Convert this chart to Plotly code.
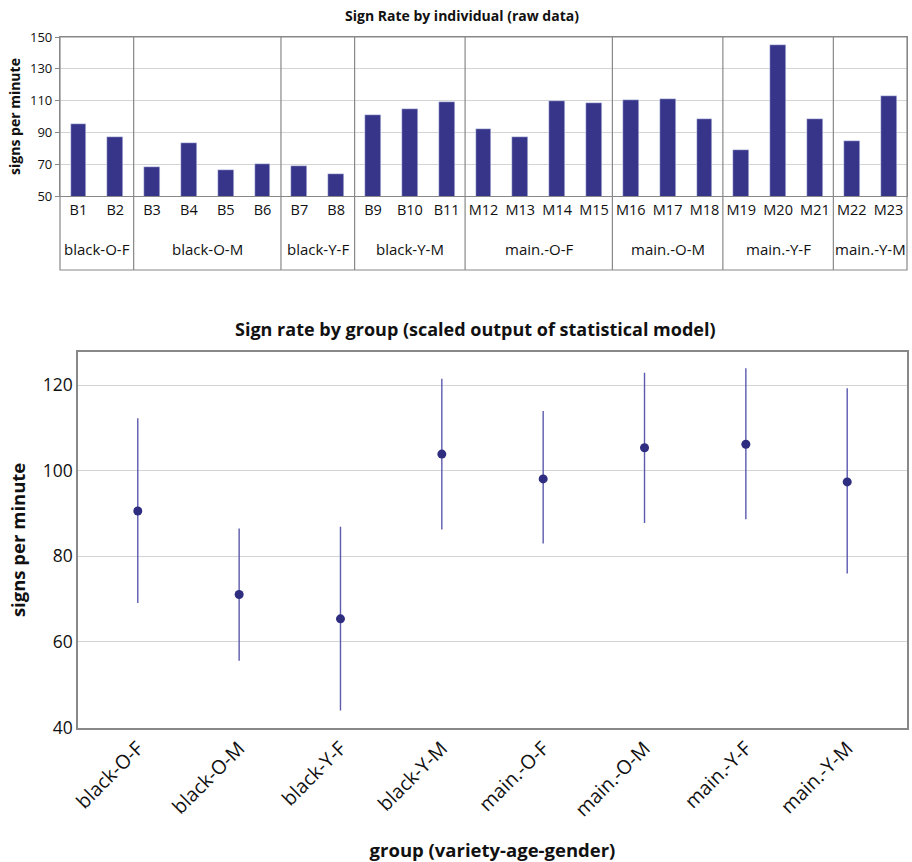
import plotly.graph_objects as go

# ---- data: top chart (raw data per individual) ----
individuals = ["B1", "B2", "B3", "B4", "B5", "B6", "B7", "B8", "B9", "B10", "B11",
               "M12", "M13", "M14", "M15", "M16", "M17", "M18", "M19", "M20", "M21", "M22", "M23"]
rates = [95.6, 87.0, 68.2, 83.3, 66.3, 70.1, 69.0, 63.8, 100.8, 104.6, 109.0,
         92.0, 87.0, 109.6, 108.4, 110.3, 110.9, 98.3, 78.9, 144.8, 98.3, 84.5, 112.8]
group_names = ["black-O-F", "black-O-M", "black-Y-F", "black-Y-M",
               "main.-O-F", "main.-O-M", "main.-Y-F", "main.-Y-M"]
group_sizes = [2, 4, 2, 3, 4, 3, 3, 2]
top_yticks = [50, 70, 90, 110, 130, 150]

# ---- data: bottom chart (model estimates) ----
groups = ["black-O-F", "black-O-M", "black-Y-F", "black-Y-M",
          "main.-O-F", "main.-O-M", "main.-Y-F", "main.-Y-M"]
est = [90.6, 71.1, 65.4, 103.9, 98.1, 105.4, 106.2, 97.4]
upper = [112.3, 86.5, 86.9, 121.5, 114.0, 122.9, 124.0, 119.3]
lower = [69.1, 55.6, 44.0, 86.3, 83.0, 87.8, 88.7, 76.0]
bottom_yticks = [40, 60, 80, 100, 120]

W, H = 912, 862
BAR = "#37358a"
FRAME = "#888888"
GRID = "#d4d4d4"
FONT = "Open Sans"

def px_x(p):
    return p / W

def px_y(p):
    return 1 - p / H

fig = go.Figure()

fig.add_trace(go.Bar(x=individuals, y=rates, marker_color=BAR, width=0.43,
                     xaxis="x", yaxis="y", showlegend=False))

fig.add_trace(go.Scatter(
    x=groups, y=est, mode="markers",
    marker=dict(color="#2e2d80", size=9),
    error_y=dict(type="data", symmetric=False,
                 array=[u - e for u, e in zip(upper, est)],
                 arrayminus=[e - l for e, l in zip(est, lower)],
                 color="#5b5aae", thickness=1.4, width=0),
    xaxis="x2", yaxis="y2", showlegend=False))

shapes = []
annotations = []

# top chart frame including label area
top_y0, top_y1, box_bottom = 37, 196, 270
shapes.append(dict(type="rect", xref="x domain", yref="paper",
                   x0=0, x1=1, y0=px_y(box_bottom), y1=px_y(top_y0),
                   line=dict(color=FRAME, width=1.2)))
# group separators and group labels
pos = 0
for i, (g, n) in enumerate(zip(group_names, group_sizes)):
    center = pos + (n - 1) / 2
    annotations.append(dict(text=g, xref="x", yref="paper", x=center, y=px_y(249),
                            yanchor="middle", xanchor="center",
                            showarrow=False, font=dict(size=15, family=FONT, color="#111")))
    if i > 0:
        shapes.append(dict(type="line", xref="x", yref="paper",
                           x0=pos - 0.5, x1=pos - 0.5,
                           y0=px_y(box_bottom), y1=px_y(top_y0),
                           line=dict(color=FRAME, width=1.2)))
    pos += n

annotations.append(dict(text="<b>Sign Rate by individual (raw data)</b>", xref="paper", yref="paper",
                        x=px_x(462), y=px_y(15), yanchor="middle", xanchor="center", showarrow=False,
                        font=dict(size=14, family=FONT, color="#111")))
annotations.append(dict(text="<b>Sign rate by group (scaled output of statistical model)</b>",
                        xref="paper", yref="paper", x=px_x(476), y=px_y(329),
                        yanchor="middle", xanchor="center", showarrow=False,
                        font=dict(size=18, family=FONT, color="#111")))

fig.update_layout(
    width=W, height=H,
    margin=dict(l=0, r=0, t=0, b=0, autoexpand=False),
    paper_bgcolor="white", plot_bgcolor="white",
    font=dict(family=FONT, color="#111"),
    bargap=0,
    shapes=shapes,
    annotations=annotations,
    xaxis=dict(domain=[px_x(60), px_x(907)], anchor="y", type="category",
               range=[-0.5, len(individuals) - 0.5], automargin=False,
               showline=True, linecolor=FRAME, linewidth=1.2, mirror=True,
               ticks="", tickfont=dict(size=14.5, family=FONT, color="#111"),
               showgrid=False, fixedrange=True),
    yaxis=dict(domain=[px_y(top_y1), px_y(top_y0)], anchor="x", automargin=False,
               range=[50, 150], tickvals=top_yticks,
               showline=True, linecolor=FRAME, linewidth=1.2, mirror=True,
               showgrid=True, gridcolor=GRID, gridwidth=1,
               ticks="outside", ticklen=4, tickcolor=FRAME,
               tickfont=dict(size=13, family=FONT, color="#111"),
               title=dict(text="<b>signs per minute</b>", font=dict(size=14, family=FONT), standoff=6),
               zeroline=False),
    xaxis2=dict(domain=[px_x(78), px_x(907)], anchor="y2", type="category", automargin=False,
                range=[-0.59, len(groups) - 1 + 0.59],
                showline=True, linecolor=FRAME, linewidth=1.5, mirror=True,
                ticks="", tickangle=-45,
                tickfont=dict(size=19.5, family=FONT, color="#111"),
                title=dict(text="<b>group (variety-age-gender)</b>", font=dict(size=18.5, family=FONT), standoff=26),
                showgrid=False),
    yaxis2=dict(domain=[px_y(727.5), px_y(352.3)], anchor="x2", automargin=False,
                range=[40, 127.7], tickvals=bottom_yticks,
                showline=True, linecolor=FRAME, linewidth=1.5, mirror=True,
                showgrid=True, gridcolor=GRID, gridwidth=1.2,
                ticks="", tickfont=dict(size=17.5, family=FONT, color="#111"),
                title=dict(text="<b>signs per minute</b>", font=dict(size=18.5, family=FONT), standoff=12),
                zeroline=False),
)

fig.write_html("out.html", config={"displayModeBar": False},
               post_script="document.body.style.margin='0';document.body.style.padding='0';")
